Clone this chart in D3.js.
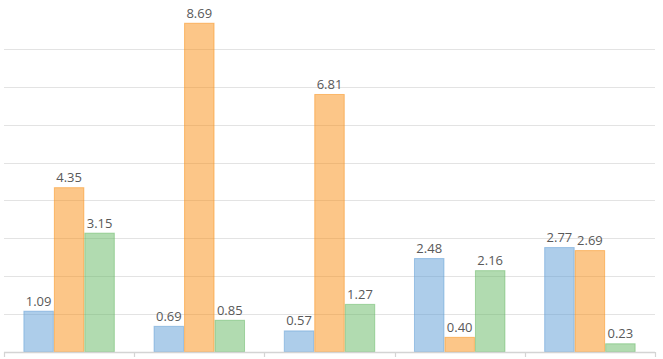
<!DOCTYPE html>
<html><head><meta charset="utf-8">
<script src="https://cdn.jsdelivr.net/npm/d3@7/dist/d3.min.js"></script>
<style>body{margin:0;background:#fff;} svg{display:block;}</style>
</head><body><svg id="c" width="663" height="359"></svg>
<script>
const categories = ["G1","G2","G3","G4","G5"];
const seriesNames = ["S1","S2","S3"];
const blueValues = [1.09,0.69,0.57,2.48,2.77];
const orangeValues = [4.35,8.69,6.81,0.40,2.69];
const greenValues = [3.15,0.85,1.27,2.16,0.23];
const gridTicks = [1,2,3,4,5,6,7,8];
const colors = ["#5b9bd5","#f98d11","#63b761"];
const allValues = [blueValues, orangeValues, greenValues];

(function(){
const svg = d3.select("#c");
const plotLeft = 4, plotRight = 655, base = 352, plotTop = 11;
const x = d3.scaleBand().domain(categories).range([plotLeft, plotRight]).padding(0);
const xs = d3.scaleBand().domain(seriesNames).range([0, x.bandwidth()]).paddingInner(0).paddingOuter(0.636);
const y = d3.scaleLinear().domain([0, 9]).range([base, plotTop]);

// gridlines
svg.append("g").selectAll("line").data(gridTicks).join("line")
  .attr("x1", plotLeft).attr("x2", plotRight)
  .attr("y1", d => Math.round(y(d)) + 0.5).attr("y2", d => Math.round(y(d)) + 0.5)
  .attr("stroke", "#e3e3e3").attr("stroke-width", 1);

// bars
const data = [];
categories.forEach((c, i) => seriesNames.forEach((s, j) => data.push({c, s, j, v: allValues[j][i]})));
const g = svg.append("g");
g.selectAll("rect").data(data).join("rect")
  .attr("x", d => x(d.c) + xs(d.s) + 0.5)
  .attr("width", xs.bandwidth() - 1)
  .attr("y", d => y(d.v) + 0.5)
  .attr("height", d => base - y(d.v) - 0.5)
  .attr("fill", d => colors[d.j]).attr("fill-opacity", 0.5)
  .attr("stroke", d => colors[d.j]).attr("stroke-opacity", 0.5).attr("stroke-width", 1);

// axis
const axisG = svg.append("g");
axisG.append("line").attr("x1", plotLeft).attr("x2", plotRight).attr("y1", base + 0.5).attr("y2", base + 0.5)
  .attr("stroke", "#d4d4d4").attr("stroke-width", 1.6);
const bounds = categories.map(c => x(c)).concat([plotRight]);
axisG.selectAll("line.t").data(bounds).join("line").attr("class","t")
  .attr("x1", d => Math.round(d) + 0.5).attr("x2", d => Math.round(d) + 0.5)
  .attr("y1", base).attr("y2", base + 5)
  .attr("stroke", "#d4d4d4").attr("stroke-width", 1.2);

// labels
g.selectAll("text").data(data).join("text")
  .attr("x", d => x(d.c) + xs(d.s) + xs.bandwidth() / 2)
  .attr("y", d => y(d.v) - 5)
  .attr("text-anchor", "middle")
  .attr("font-family", "Open Sans, sans-serif").attr("font-size", 13)
  .attr("fill", "#595959")
  .text(d => d.v.toFixed(2));
})();
</script></body></html>
